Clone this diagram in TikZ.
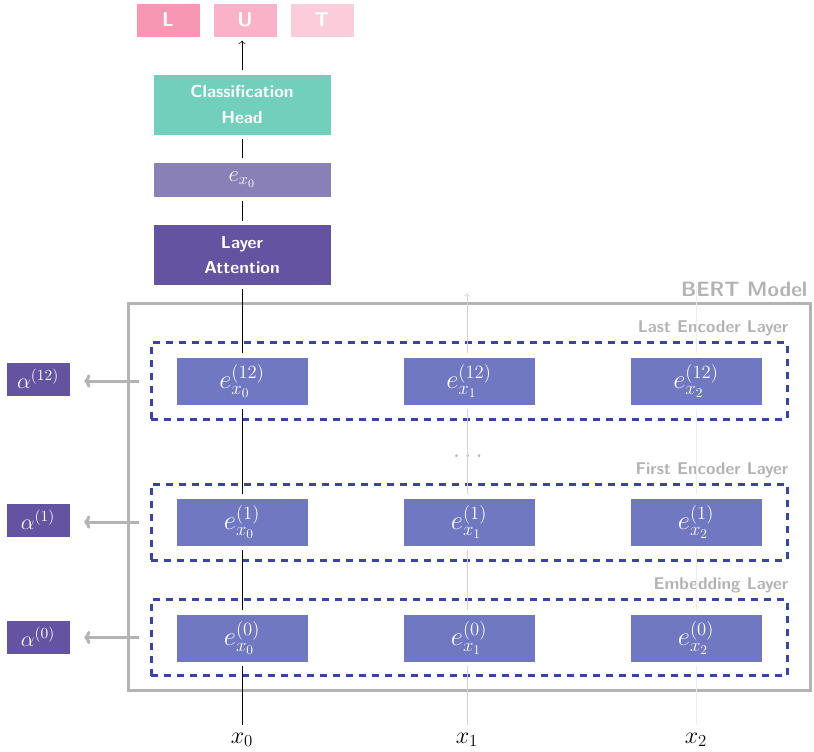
\RequirePackage{fix-cm}
\documentclass[tikz,border=0pt]{standalone}
\usepackage{fontspec}
\usetikzlibrary{arrows.meta}

\definecolor{lutL}{HTML}{F797B4}
\definecolor{lutU}{HTML}{F9B2C8}
\definecolor{lutT}{HTML}{FBCCDA}
\definecolor{headteal}{HTML}{72CFBB}
\definecolor{clsviolet}{HTML}{8A80B8}
\definecolor{attviolet}{HTML}{6353A0}
\definecolor{embblue}{HTML}{6F78C0}
\definecolor{layerblue}{HTML}{3A45A0}
\definecolor{bertgray}{HTML}{B3B3B3}

\begin{document}
\begin{tikzpicture}[x=0.75pt, y=-0.75pt,
    lut/.style={fill=#1, draw=white, line width=0.4pt, minimum width=48pt, minimum height=25.5pt,
        text=white, font=\sffamily\bfseries\fontsize{15}{17}\selectfont},
    bigbox/.style={fill=#1, draw=white, line width=0.4pt, minimum width=133.5pt, minimum height=45.75pt,
        text=white, align=center, font=\sffamily\bfseries\fontsize{13}{19}\selectfont},
    embbox/.style={fill=embblue, draw=white, line width=0.4pt, minimum width=99pt, minimum height=36pt,
        text=white, font=\fontsize{20}{22}\selectfont},
    alphabox/.style={fill=attviolet, draw=white, line width=0.4pt, minimum width=48pt, minimum height=25.5pt,
        text=white, font=\fontsize{16.5}{18}\selectfont},
    layer/.style={draw=layerblue, line width=2.25pt, dash pattern=on 5.25pt off 4.5pt,
        minimum width=477pt, minimum height=57pt},
    layerlabel/.style={text=bertgray, anchor=east, font=\sffamily\bfseries\fontsize{12.8}{14}\selectfont},
    feat/.style={draw=bertgray, line width=2.25pt, -{To[length=4.5pt, width=10pt]},
        shorten <=8.25pt, shorten >=10.5pt},
    link/.style={shorten <=2.5pt, shorten >=2.5pt},
    faint/.style={draw=black!17, shorten <=2.5pt, shorten >=2.5pt},
    fainter/.style={draw=black!7, shorten <=2.5pt, shorten >=2.5pt}]

    \useasboundingbox (0,0) rectangle (814,752);

    \node[lut=lutL] (L) at (168,20) {L};
    \node[lut=lutU] (U) at (245,20) {U};
    \node[lut=lutT] (T) at (322,20) {T};
    \node[bigbox=headteal] (head) at (242,104.5) {Classification\\Head};
    \node[bigbox=clsviolet, minimum height=26.25pt, font=\fontsize{17}{19}\selectfont] (ex0) at (242,179.5) {$e_{x_0}$};
    \node[bigbox=attviolet] (att) at (242,255) {Layer\\Attention};

    \node[draw=bertgray, line width=2.25pt, minimum width=511.5pt, minimum height=289.5pt] (bert) at (469,497) {};
    \node[text=bertgray, anchor=east, font=\sffamily\bfseries\fontsize{15.6}{18}\selectfont] (bertlab) at (812,289) {BERT Model};

    \node[layer] (lastlay) at (469,381) {};
    \node[layer] (firstlay) at (469,522) {};
    \node[layer] (emblay) at (469,637.5) {};
    \node[layerlabel] (lastlab) at (793,328) {Last Encoder Layer};
    \node[layerlabel] (firstlab) at (793,470) {First Encoder Layer};
    \node[layerlabel] (emblab) at (793,585) {Embedding Layer};

    \node[embbox] (last0) at (242,381) {$e^{(12)}_{x_0}$};
    \node[embbox] (last1) at (469,381) {$e^{(12)}_{x_1}$};
    \node[embbox] (last2) at (696,381) {$e^{(12)}_{x_2}$};
    \node[text=bertgray, font=\fontsize{19}{20}\selectfont] (dots) at (468,457) {$\cdots$};
    \node[embbox] (first0) at (242,522) {$e^{(1)}_{x_0}$};
    \node[embbox] (first1) at (469,522) {$e^{(1)}_{x_1}$};
    \node[embbox] (first2) at (696,522) {$e^{(1)}_{x_2}$};
    \node[embbox] (emb0) at (242,638) {$e^{(0)}_{x_0}$};
    \node[embbox] (emb1) at (469,638) {$e^{(0)}_{x_1}$};
    \node[embbox] (emb2) at (696,638) {$e^{(0)}_{x_2}$};

    \node[alphabox] (a12) at (38,379) {$\alpha^{(12)}$};
    \node[alphabox] (a1) at (38,520) {$\alpha^{(1)}$};
    \node[alphabox] (a0) at (38,637) {$\alpha^{(0)}$};

    \node[font=\fontsize{18}{20}\selectfont] (x0) at (242,740) {$x_0$};
    \node[font=\fontsize{18}{20}\selectfont] (x1) at (467,740) {$x_1$};
    \node[font=\fontsize{18}{20}\selectfont] (x2) at (696,740) {$x_2$};
    \coordinate (x1top) at (467,290);
    \coordinate (x2top) at (696,283);

    %%%%%%%%%%%%%%%%%%%%%%%%%%%%%%%%%%%%%%%%

    \draw[link] (x0) -- (emb0);
    \draw[link] (emb0) -- (first0);
    \draw[link] (first0) -- (last0);
    \draw[link] (last0) -- (att);
    \draw[link] (att) -- (ex0);
    \draw[link] (ex0) -- (head);
    \draw[link, ->] (head) -- (head |- U.south);

    \draw[faint] (x1) -- (x1 |- emb1.south);
    \draw[faint] (x1 |- emb1.north) -- (x1 |- first1.south);
    \draw[faint] (x1 |- first1.north) -- (x1 |- last1.south);
    \draw[faint, ->] (x1 |- last1.north) -- (x1top);

    \draw[fainter] (x2) -- (emb2);
    \draw[fainter] (emb2) -- (first2);
    \draw[fainter] (first2) -- (last2);
    \draw[fainter] (last2) -- (x2top);

    \draw[feat] (lastlay.west) -- (lastlay.west -| a12.east);
    \draw[feat] (firstlay.west) -- (firstlay.west -| a1.east);
    \draw[feat] (emblay.west) -- (emblay.west -| a0.east);

\end{tikzpicture}
\end{document}
